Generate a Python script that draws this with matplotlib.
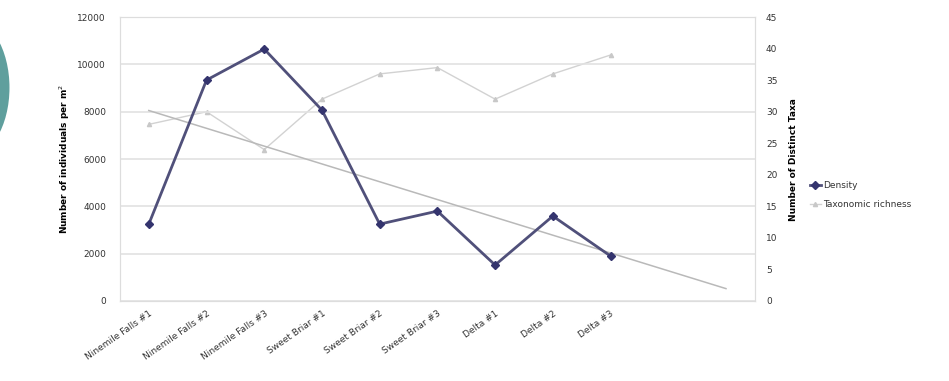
import numpy as np
import matplotlib
matplotlib.use("Agg")
import matplotlib.pyplot as plt
from matplotlib.patches import Ellipse

# sampling sites (two empty slots on the category axis leave room for the trend forecast)
sites = ["Ninemile Falls #1", "Ninemile Falls #2", "Ninemile Falls #3",
         "Sweet Briar #1", "Sweet Briar #2", "Sweet Briar #3",
         "Delta #1", "Delta #2", "Delta #3", "", ""]
density = [3250, 9340, 10650, 8070, 3250, 3800, 1520, 3590, 1900]
taxa = [28, 30, 24, 32, 36, 37, 32, 36, 39]

x = np.arange(len(density)) + 1
x_all = np.arange(len(sites)) + 1

fig = plt.figure(figsize=(9.49, 3.81), dpi=100)
fig.patch.set_facecolor("white")

# slide background decoration on the left edge
fig.patches.append(Ellipse((-0.035, 0.77), 0.09, 0.37, transform=fig.transFigure,
                           facecolor="#5f9f9d", edgecolor="none", zorder=0))

ax = fig.add_axes([0.1264, 0.21, 0.669, 0.745])
ax2 = ax.twinx()

ax.set_xlim(0.5, len(sites) + 0.5)
ax.set_ylim(0, 12000)
ax2.set_ylim(0, 45)
ax.set_yticks(np.arange(0, 12001, 2000))
ax2.set_yticks(np.arange(0, 46, 5))
ax.set_xticks(x_all)
ax.set_xticklabels(sites, rotation=35, ha="right", rotation_mode="anchor",
                   fontsize=6, color="#333333")

ax.yaxis.grid(True, color="#e2e2e2", linewidth=1.2)
ax.set_axisbelow(True)

for a in (ax, ax2):
    for s in a.spines.values():
        s.set_color("#dddddd")
    a.tick_params(length=0, labelsize=6.5, colors="#333333")
ax.tick_params(axis="y", pad=10)
ax2.tick_params(axis="y", pad=8)
ax.tick_params(axis="x", pad=6)

# linear trend of density, projected two periods forward
coef = np.polyfit(x, density, 1)
ax.plot(x_all, np.polyval(coef, x_all), color="#b9b9b9", linewidth=1.1, zorder=2)

l2, = ax2.plot(x, taxa, color="#d2d2d2", linewidth=1.0, marker="^",
               markersize=3, markerfacecolor="#c8c8c8", markeredgecolor="#c8c8c8",
               label="Taxonomic richness", zorder=2)
l1, = ax.plot(x, density, color="#50507a", linewidth=2.0, marker="D",
              markersize=4.5, markerfacecolor="#34346e", markeredgecolor="#34346e",
              label="Density", zorder=4)
ax.set_zorder(ax2.get_zorder() + 1)
ax.patch.set_visible(False)

ax.set_ylabel("Number of individuals per m$^2$", fontsize=6.5, fontweight="bold",
              labelpad=4)
ax2.set_ylabel("Number of Distinct Taxa", fontsize=6.5, fontweight="bold",
               labelpad=8)

fig.legend([l1, l2], ["Density", "Taxonomic richness"], loc="upper left",
           bbox_to_anchor=(0.845, 0.545), frameon=False, fontsize=6.5,
           handlelength=1.2, handletextpad=0.3, labelspacing=1.1,
           labelcolor="#333333")

fig.savefig("out.png", dpi=100)
